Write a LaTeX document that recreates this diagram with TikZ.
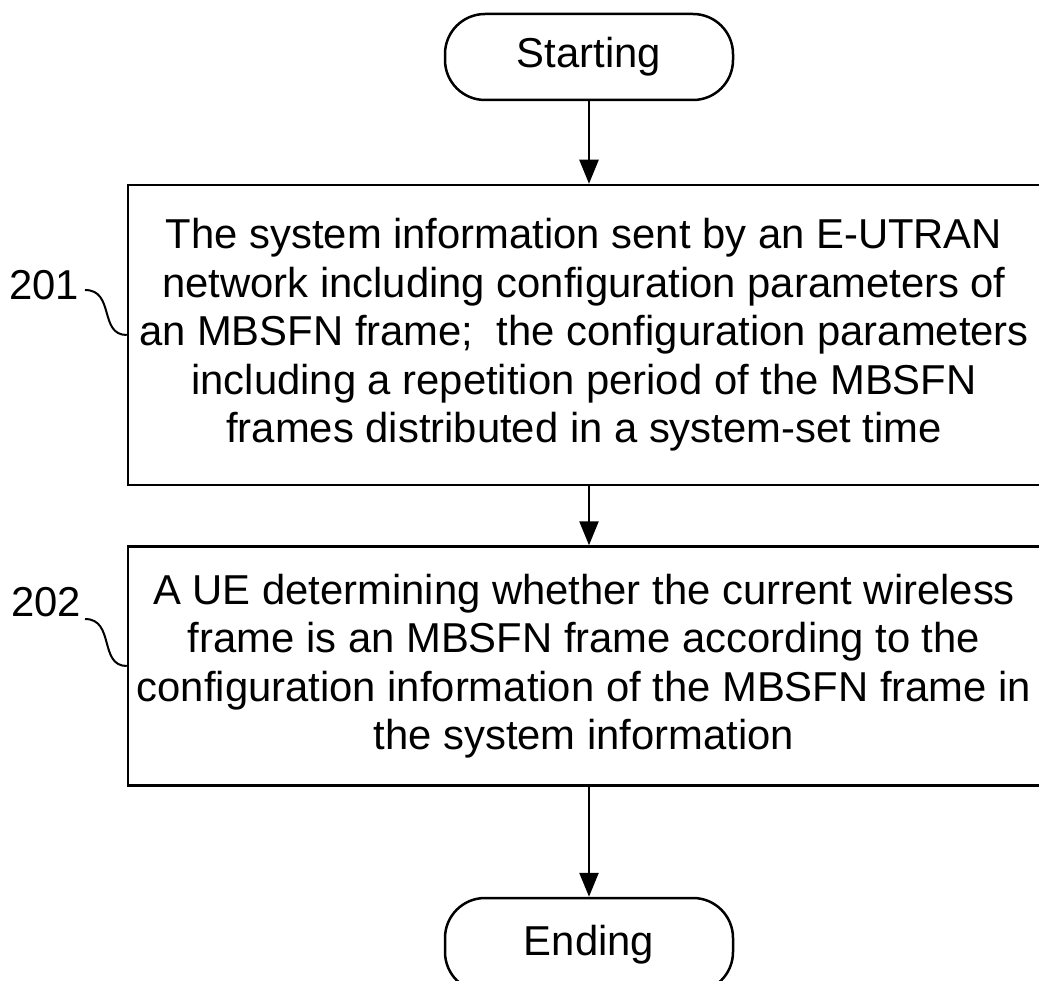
\documentclass[tikz,border=0pt]{standalone}
\usepackage{fontspec}
\setmainfont{Liberation Sans}
\usepackage{tikz}
\usetikzlibrary{arrows.meta}

\tikzset{
  term/.style={draw, line width=2.5pt, rounded corners=40pt, minimum width=288pt, minimum height=86pt, inner sep=0pt},
  stepbox/.style={draw, line width=2.5pt, minimum width=912pt, align=center, inner sep=0pt},
  flow/.style={line width=2.5pt, -{Triangle[length=24pt,width=19pt]}},
  lead/.style={line width=2pt}
}

\begin{document}
\begin{tikzpicture}[x=1pt, y=-1pt, font=\fontsize{41.8}{48.5}\selectfont]
        \useasboundingbox (0, 0) rectangle (1039, 981);
        % terminals and steps
        \node[term] (start) at (589, 57) {Starting};
        \node[stepbox, minimum height=300pt] (step1) at (584, 335)
          {The system information sent by an E-UTRAN\\
           network including configuration parameters of\\
           an MBSFN frame;\ \ the configuration parameters\\
           including a repetition period of the MBSFN\\
           frames distributed in a system-set time};
        \node[stepbox, minimum height=239pt] (step2) at (584, 666)
          {A UE determining whether the current wireless\\
           frame is an MBSFN frame according to the\\
           configuration information of the MBSFN frame in\\
           the system information};
        \node[term, minimum height=94pt] (finish) at (589, 945) {Ending};
        % arrows
        \draw[flow] (start) -- (start |- step1.north);
        \draw[flow] (step1.south -| start) -- (step2.north -| start);
        \draw[flow] (step2.south -| finish) -- (finish);
        % step numbers
        \node (l201) at (44, 285) {201};
        \node (l202) at (46, 602) {202};
        \coordinate (c201) at (85, 290);
        \coordinate (c202) at (85, 619);
        \draw[lead] (c201) .. controls +(30, 0) and +(-28, 0) .. (step1.west);
        \draw[lead] (c202) .. controls +(30, 0) and +(-28, 0) .. (step2.west);
      \end{tikzpicture}
\end{document}
